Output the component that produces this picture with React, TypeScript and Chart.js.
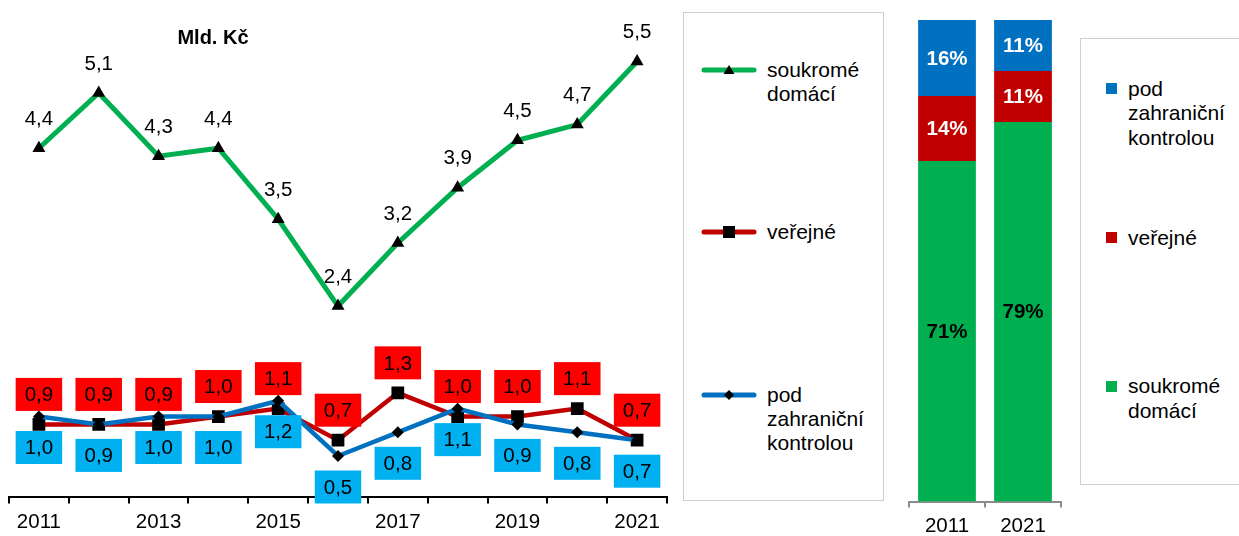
import React, { useEffect, useRef } from "react";
import { Chart, registerables } from "chart.js";

Chart.register(...registerables);

const FONT = '"Liberation Sans", Arial, Helvetica, sans-serif';

// ---- Line chart data (Mld. Kč) ----
const years = ["2011", "2012", "2013", "2014", "2015", "2016", "2017", "2018", "2019", "2020", "2021"];
const soukromeDomaci = [4.4, 5.1, 4.3, 4.4, 3.5, 2.4, 3.2, 3.9, 4.5, 4.7, 5.5];
const verejne = [0.9, 0.9, 0.9, 1.0, 1.1, 0.7, 1.3, 1.0, 1.0, 1.1, 0.7];
const podZahranicni = [1.0, 0.9, 1.0, 1.0, 1.2, 0.5, 0.8, 1.1, 0.9, 0.8, 0.7];

// ---- Stacked share chart data (%) ----
const shareYears = ["2011", "2021"];
const shareSoukrome = [70.7, 78.8];
const shareVerejne = [13.5, 10.6];
const sharePod = [15.8, 10.6];

const seriesNames = ["soukromé domácí", "veřejné", "pod zahraniční kontrolou"];

const GREEN = "#00B050";
const RED_LINE = "#C00000";
const BLUE_LINE = "#0070C0";
const RED_BOX = "#FF0000";
const BLUE_BOX = "#00B0F0";

const fmt = (v: number) => v.toFixed(1).replace(".", ",");

// label styles per dataset index
const labelStyles: Record<number, { dy: number; bg?: string }> = {
  0: { dy: -30 },
  1: { dy: -30, bg: RED_BOX },
  2: { dy: 31, bg: BLUE_BOX },
};

const lineLabelPlugin = {
  id: "lineLabels",
  afterDatasetsDraw(chart: any) {
    const ctx = chart.ctx;
    chart.data.datasets.forEach((ds: any, di: number) => {
      const meta = chart.getDatasetMeta(di);
      const st = labelStyles[di];
      meta.data.forEach((pt: any, i: number) => {
        const text = fmt(ds.data[i]);
        ctx.save();
        ctx.font = `20.5px ${FONT}`;
        ctx.textAlign = "center";
        ctx.textBaseline = "middle";
        const y = pt.y + st.dy;
        if (st.bg) {
          const w = ctx.measureText(text).width + 18;
          const h = 33;
          ctx.fillStyle = st.bg;
          ctx.fillRect(pt.x - w / 2, y - h / 2, w, h);
        }
        ctx.fillStyle = "#000";
        ctx.fillText(text, pt.x, y + 1);
        ctx.restore();
      });
    });
  },
};

const barLabelPlugin = {
  id: "barLabels",
  afterDatasetsDraw(chart: any) {
    const ctx = chart.ctx;
    chart.data.datasets.forEach((ds: any, di: number) => {
      const meta = chart.getDatasetMeta(di);
      meta.data.forEach((el: any, i: number) => {
        const text = Math.round(ds.data[i]) + "%";
        ctx.save();
        ctx.font = `bold 20.5px ${FONT}`;
        ctx.textAlign = "center";
        ctx.textBaseline = "middle";
        ctx.fillStyle = di === 0 ? "#000" : "#fff";
        ctx.fillText(text, el.x, (el.y + el.base) / 2 + 1);
        ctx.restore();
      });
    });
  },
};

function LineMarker({ kind }: { kind: string }) {
  if (kind === "triangle") return <polygon points="28,2 33.5,11 22.5,11" fill="#000" />;
  if (kind === "rect") return <rect x={22} y={1} width={12} height={12} fill="#000" />;
  return <polygon points="28,2 33,7 28,12 23,7" fill="#000" />;
}

function LineLegendItem({ color, kind, top, lines }: { color: string; kind: string; top: number; lines: string[] }) {
  return (
    <>
      <svg width={56} height={14} style={{ position: "absolute", left: 701, top: top - 7 }}>
        <line x1={3} y1={7} x2={53} y2={7} stroke={color} strokeWidth={5} strokeLinecap="round" />
        <LineMarker kind={kind} />
      </svg>
      <div
        style={{
          position: "absolute",
          left: 767,
          top: top - 12,
          fontSize: 21,
          lineHeight: "24px",
          color: "#000",
          whiteSpace: "nowrap",
        }}
      >
        {lines.map((l, i) => (
          <div key={i}>{l}</div>
        ))}
      </div>
    </>
  );
}

function BarLegendItem({ color, top, lines }: { color: string; top: number; lines: string[] }) {
  return (
    <>
      <div style={{ position: "absolute", left: 1106, top: top - 5.5, width: 11, height: 11, background: color }} />
      <div
        style={{
          position: "absolute",
          left: 1128,
          top: top - 12,
          fontSize: 21,
          lineHeight: "24.5px",
          color: "#000",
          whiteSpace: "nowrap",
        }}
      >
        {lines.map((l, i) => (
          <div key={i}>{l}</div>
        ))}
      </div>
    </>
  );
}

export default function App() {
  const lineRef = useRef<HTMLCanvasElement>(null);
  const barRef = useRef<HTMLCanvasElement>(null);

  useEffect(() => {
    const lineChart = new Chart(lineRef.current!, {
      type: "line",
      data: {
        labels: years,
        datasets: [
          {
            label: seriesNames[0],
            data: soukromeDomaci,
            borderColor: GREEN,
            borderWidth: 5,
            pointStyle: "triangle",
            pointRadius: 7.5,
            pointBackgroundColor: "#000",
            pointBorderColor: "#000",
            pointBorderWidth: 0,
            tension: 0,
            order: 2,
          },
          {
            label: seriesNames[1],
            data: verejne,
            borderColor: RED_LINE,
            borderWidth: 4.5,
            pointStyle: "rect",
            pointRadius: 9,
            pointBackgroundColor: "#000",
            pointBorderColor: "#000",
            pointBorderWidth: 0,
            tension: 0,
            order: 1,
          },
          {
            label: seriesNames[2],
            data: podZahranicni,
            borderColor: BLUE_LINE,
            borderWidth: 4.5,
            pointStyle: "rectRot",
            pointRadius: 6,
            pointBackgroundColor: "#000",
            pointBorderColor: "#000",
            pointBorderWidth: 0,
            tension: 0,
            order: 0,
          },
        ],
      },
      options: {
        responsive: false,
        animation: false,
        devicePixelRatio: 1,
        events: [],
        layout: { padding: { left: 9, right: 13, top: 22, bottom: 0 } },
        plugins: { legend: { display: false }, tooltip: { enabled: false } },
        scales: {
          x: {
            offset: true,
            grid: {
              offset: true,
              drawOnChartArea: false,
              drawTicks: true,
              tickLength: 6,
              color: "#000",
              lineWidth: 2,
            },
            border: { display: true, color: "#000", width: 2 },
            ticks: {
              color: "#000",
              font: { size: 20.5, family: FONT, lineHeight: 1.2 },
              padding: 7,
              autoSkip: false,
              maxRotation: 0,
              callback: (_v: any, i: number) => (i % 2 === 0 ? years[i] : ""),
            },
          },
          y: { display: false, min: -0.025, max: 6 },
        },
      },
      plugins: [lineLabelPlugin],
    } as any);

    const barChart = new Chart(barRef.current!, {
      type: "bar",
      data: {
        labels: shareYears,
        datasets: [
          { label: seriesNames[0], data: shareSoukrome, backgroundColor: GREEN },
          { label: seriesNames[1], data: shareVerejne, backgroundColor: RED_LINE },
          { label: seriesNames[2], data: sharePod, backgroundColor: BLUE_LINE },
        ],
      },
      options: {
        responsive: false,
        animation: false,
        devicePixelRatio: 1,
        events: [],
        layout: { padding: { left: 19, right: 19, top: 20, bottom: 0 } },
        plugins: { legend: { display: false }, tooltip: { enabled: false } },
        datasets: { bar: { barPercentage: 0.76, categoryPercentage: 1 } },
        scales: {
          x: {
            stacked: true,
            offset: true,
            grid: {
              offset: true,
              drawOnChartArea: false,
              drawTicks: true,
              tickLength: 6,
              color: "#8c8c8c",
              lineWidth: 2,
            },
            border: { display: true, color: "#8c8c8c", width: 2 },
            ticks: {
              color: "#000",
              font: { size: 20.5, family: FONT, lineHeight: 1 },
              padding: 8.5,
              maxRotation: 0,
            },
          },
          y: { display: false, stacked: true, min: 0, max: 100 },
        },
      },
      plugins: [barLabelPlugin],
    } as any);

    return () => {
      lineChart.destroy();
      barChart.destroy();
    };
  }, []);

  return (
    <div
      style={{
        position: "absolute",
        left: 0,
        top: 0,
        width: 1239,
        height: 536,
        overflow: "hidden",
        background: "#fff",
        fontFamily: FONT,
      }}
    >
      <canvas ref={lineRef} width={680} height={542} style={{ position: "absolute", left: 0, top: 0 }} />
      <div
        style={{
          position: "absolute",
          left: 113,
          top: 25,
          width: 200,
          textAlign: "center",
          fontWeight: "bold",
          fontSize: 20,
          lineHeight: "24px",
          color: "#000",
        }}
      >
        Mld. Kč
      </div>

      <div
        style={{
          position: "absolute",
          left: 683,
          top: 12,
          width: 199,
          height: 487,
          border: "1px solid #cfcfcf",
        }}
      />
      <LineLegendItem color={GREEN} kind="triangle" top={70} lines={["soukromé", "domácí"]} />
      <LineLegendItem color={RED_LINE} kind="rect" top={232} lines={["veřejné"]} />
      <LineLegendItem color={BLUE_LINE} kind="diamond" top={395} lines={["pod", "zahraniční", "kontrolou"]} />

      <canvas ref={barRef} width={190} height={545} style={{ position: "absolute", left: 890, top: 0 }} />

      <div
        style={{
          position: "absolute",
          left: 1080,
          top: 38,
          width: 200,
          height: 445,
          border: "1px solid #cfcfcf",
        }}
      />
      <BarLegendItem color={BLUE_LINE} top={88.5} lines={["pod", "zahraniční", "kontrolou"]} />
      <BarLegendItem color={RED_LINE} top={237.5} lines={["veřejné"]} />
      <BarLegendItem color={GREEN} top={386} lines={["soukromé", "domácí"]} />
    </div>
  );
}
